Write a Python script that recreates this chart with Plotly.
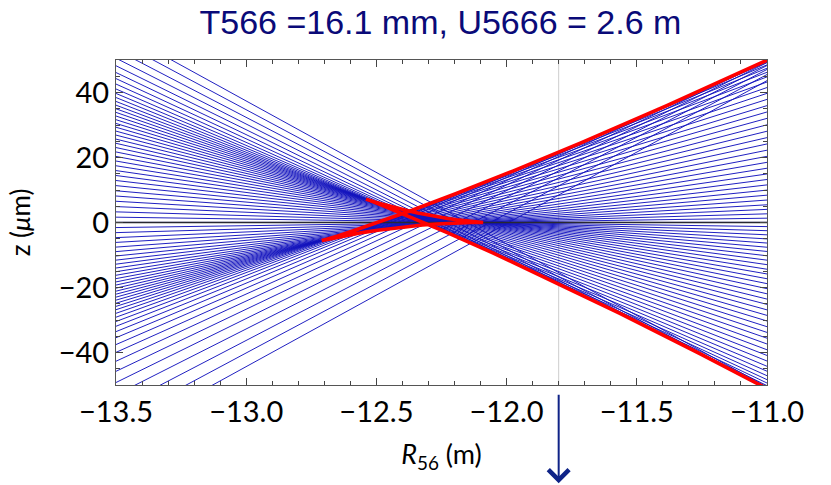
import plotly.graph_objects as go

# Horizontal extent of the plotted R56 window (m)
R56_EDGES = [-13.5, -11.0]
# Marked R56 value (vertical grey line and arrow)
MARK_R56 = -11.8

# Each blue line: z (um) at R56 = -13.5 and at R56 = -11.0
Z_AT_LEFT = [
    59.39, 56.12, 53.19, 50.56, 48.23, 46.14, 44.27, 42.60, 41.08, 39.71, 38.45,
    37.25, 36.10, 34.99, 33.88, 32.76, 31.63, 30.48, 29.31, 28.12, 26.90, 25.66,
    24.37, 23.06, 21.71, 20.33, 18.91, 17.46, 15.98, 14.46, 12.92, 11.35, 9.76,
    8.15, 6.53, 4.90, 3.27, 1.64, 0.03, -1.56, -3.12, -4.65, -6.13, -7.57,
    -8.96, -10.30, -11.58, -12.82, -14.00, -15.14, -16.23, -17.27, -18.28, -19.25, -20.20,
    -21.13, -22.05, -22.96, -23.89, -24.83, -25.81, -26.84, -27.94, -29.14, -30.46, -31.93,
    -33.58, -35.45, -37.56, -39.96, -42.69, -45.79, -49.23, -53.01, -57.13, -61.56, -66.34,
]
Z_AT_RIGHT = [
    -50.61, -50.98, -51.02, -50.75, -50.20, -49.39, -48.36, -47.14, -45.76, -44.24, -42.62,
    -40.91, -39.16, -37.38, -35.60, -33.82, -32.06, -30.31, -28.58, -26.88, -25.20, -23.56,
    -21.94, -20.36, -18.81, -17.30, -15.83, -14.38, -12.97, -11.59, -10.24, -8.91, -7.61,
    -6.32, -5.05, -3.79, -2.52, -1.26, 0.03, 1.33, 2.67, 4.04, 5.45, 6.91,
    8.41, 9.97, 11.57, 13.23, 14.94, 16.70, 18.51, 20.36, 22.25, 24.17, 26.12,
    28.08, 30.06, 32.04, 34.01, 35.96, 37.88, 39.74, 41.53, 43.22, 44.80, 46.22,
    47.47, 48.50, 49.28, 49.78, 49.94, 49.74, 49.19, 48.30, 47.09, 45.54, 43.66,
]

# Red caustic curve (R56 in m, z in um)
CAUSTIC_R56 = [
    -10.909, -11.260, -11.567, -11.831, -12.051, -12.230, -12.367, -12.464, -12.521, -12.540,
    -12.536, -12.523, -12.504, -12.479, -12.449, -12.416, -12.379, -12.341, -12.302, -12.263,
    -12.226, -12.192, -12.160, -12.134, -12.112, -12.098, -12.090, -12.090, -12.093, -12.109,
    -12.136, -12.173, -12.217, -12.268, -12.323, -12.381, -12.439, -12.495, -12.549, -12.598,
    -12.640, -12.674, -12.698, -12.709, -12.710, -12.707, -12.689, -12.651, -12.588, -12.493,
    -12.363, -12.193, -11.976, -11.708, -11.385, -11.000,
]
CAUSTIC_Z = [
    -54.92, -40.24, -27.86, -17.64, -9.42, -3.04, 1.66, 4.83, 6.63, 7.20, 7.08,
    6.75, 6.27, 5.67, 5.01, 4.31, 3.61, 2.93, 2.30, 1.73, 1.24, 0.83,
    0.51, 0.27, 0.12, 0.03, 0.00, 0.00, 0.01, 0.03, 0.02, -0.05, -0.19,
    -0.44, -0.78, -1.23, -1.76, -2.37, -3.03, -3.70, -4.35, -4.91, -5.34, -5.56,
    -5.58, -5.52, -5.11, -4.19, -2.54, 0.03, 3.77, 8.94, 15.83, 24.73, 35.99,
    49.94,
]

X_TICKS = [-13.5, -13.0, -12.5, -12.0, -11.5, -11.0]
Y_TICKS = [-40, -20, 0, 20, 40]
Y_RANGE = [-50, 50]

lx, ly = [], []
for a, b in zip(Z_AT_LEFT, Z_AT_RIGHT):
    lx += [R56_EDGES[0], R56_EDGES[1], None]
    ly += [a, b, None]

fig = go.Figure()
fig.add_trace(go.Scatter(x=lx, y=ly, mode="lines",
                         line=dict(color="rgb(20,20,190)", width=0.95), hoverinfo="skip"))
fig.add_trace(go.Scatter(x=R56_EDGES, y=[0, 0], mode="lines",
                         line=dict(color="rgb(40,40,50)", width=1.4), hoverinfo="skip"))
fig.add_trace(go.Scatter(x=CAUSTIC_R56, y=CAUSTIC_Z, mode="lines",
                         line=dict(color="rgb(255,0,0)", width=3.6), hoverinfo="skip"))

fig.add_shape(type="line", xref="x", yref="paper", x0=MARK_R56, x1=MARK_R56, y0=0, y1=1,
              line=dict(color="rgb(205,205,205)", width=1), layer="below")
fig.add_annotation(x=MARK_R56, xref="x", y=-0.302, yref="paper", ax=0, ay=-90, showarrow=True,
                   arrowhead=4, arrowsize=2.0, arrowwidth=2, arrowcolor="rgb(15,35,135)",
                   text="", standoff=0)

tickfont = dict(family="Lato", size=29, color="black")
fig.update_xaxes(range=R56_EDGES, tickvals=X_TICKS, tickformat=".1f",
                 ticks="inside", ticklen=7, tickcolor="#444", showline=True, linecolor="#555",
                 linewidth=1, mirror="ticks", showgrid=False, zeroline=False, tickfont=tickfont,
                 ticklabelstandoff=1,
                 minor=dict(ticks="inside", ticklen=4, dtick=0.1, tickcolor="#444"),
                 title=dict(text="<i>R</i><sub>56</sub> (m)",
                            font=dict(family="Lato", size=27, color="black"), standoff=18))
fig.update_yaxes(range=Y_RANGE, tickvals=Y_TICKS,
                 ticks="inside", ticklen=7, tickcolor="#444", showline=True, linecolor="#555",
                 linewidth=1, mirror="ticks", showgrid=False, zeroline=False, tickfont=tickfont,
                 minor=dict(ticks="inside", ticklen=4, dtick=5, tickcolor="#444"),
                 title=dict(text="z (<i>μ</i>m)",
                            font=dict(family="Lato", size=26, color="black"), standoff=20))
fig.update_layout(width=831, height=485, margin=dict(l=116, r=64, t=60, b=100),
                  plot_bgcolor="white", paper_bgcolor="white", showlegend=False,
                  title=dict(text="T566 =16.1 mm, U5666 = 2.6 m", x=0.53, xanchor="center",
                             y=0.955, yanchor="middle",
                             font=dict(family="Liberation Sans", size=34, color="rgb(10,10,120)")))
fig.write_html("out.html", config={"displayModeBar": False},
               post_script="document.body.style.margin='0px';")
